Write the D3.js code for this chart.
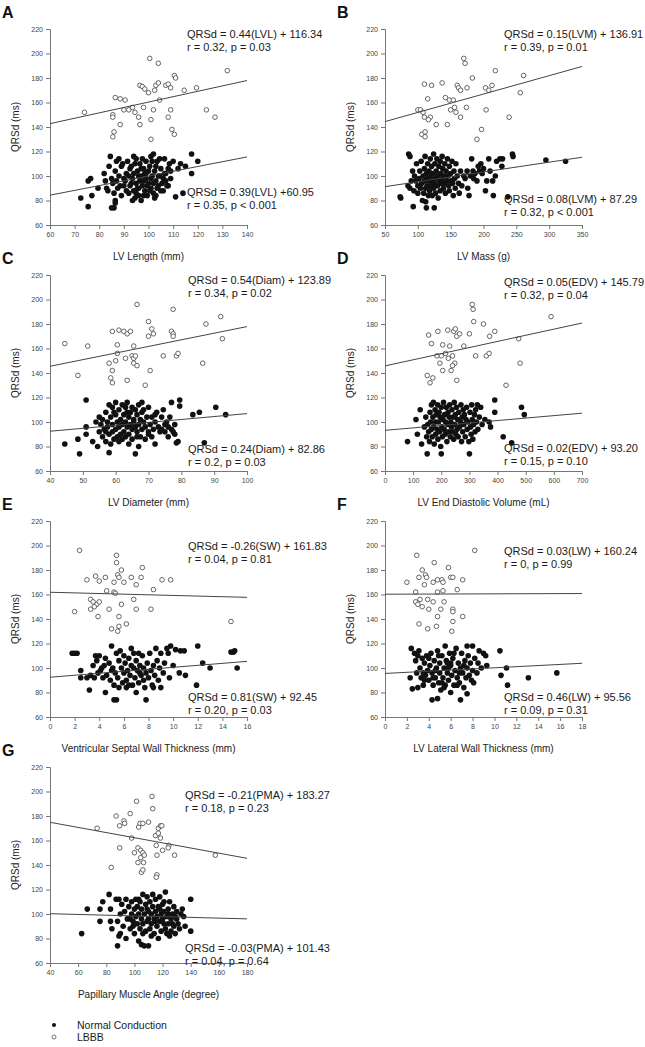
<!DOCTYPE html>
<html>
<head>
<meta charset="utf-8">
<script src="https://cdn.jsdelivr.net/npm/d3@7"></script>
<style>
  body { margin: 0; background: #fff; }
  svg { display: block; font-family: "Liberation Sans", Arial, sans-serif; }
</style>
</head>
<body>
<div id="chart"></div>
<script>
// panel letters and x axis titles
const panelIds = ["A", "B", "C", "D", "E", "F", "G"]
const xTitles = [
  "LV Length (mm)",
  "LV Mass (g)",
  "LV Diameter (mm)",
  "LV  End Diastolic Volume (mL)",
  "Ventricular Septal Wall Thickness (mm)",
  "LV Lateral Wall Thickness (mm)",
  "Papillary Muscle Angle (degree)"
]
const xTicks = [
  [60, 70, 80, 90, 100, 110, 120, 130, 140],
  [50, 100, 150, 200, 250, 300, 350],
  [40, 50, 60, 70, 80, 90, 100],
  [0, 100, 200, 300, 400, 500, 600, 700],
  [0, 2, 4, 6, 8, 10, 12, 14, 16],
  [0, 2, 4, 6, 8, 10, 12, 14, 16, 18],
  [40, 60, 80, 100, 120, 140, 160, 180]
]
const yTicks = [60, 80, 100, 120, 140, 160, 180, 200, 220]
const yTitle = "QRSd (ms)"

// regression fits [slope, intercept]
const lbbbFits = [[0.44, 116.34], [0.15, 136.91], [0.54, 123.89], [0.05, 145.79], [-0.26, 161.83], [0.03, 160.24], [-0.21, 183.27]]
const normalFits = [[0.39, 60.95], [0.08, 87.29], [0.24, 82.86], [0.02, 93.20], [0.81, 92.45], [0.46, 95.56], [-0.03, 101.43]]

const lbbbLabels = [
  ["QRSd = 0.44(LVL) + 116.34", "r = 0.32, p = 0.03"],
  ["QRSd = 0.15(LVM) + 136.91", "r = 0.39, p = 0.01"],
  ["QRSd = 0.54(Diam) + 123.89", "r = 0.34, p = 0.02"],
  ["QRSd = 0.05(EDV) + 145.79", "r = 0.32, p = 0.04"],
  ["QRSd = -0.26(SW) + 161.83", "r = 0.04, p = 0.81"],
  ["QRSd = 0.03(LW) + 160.24", "r = 0, p = 0.99"],
  ["QRSd = -0.21(PMA) + 183.27", "r = 0.18, p = 0.23"]
]
const normalLabels = [
  ["QRSd = 0.39(LVL) +60.95", "r = 0.35, p < 0.001"],
  ["QRSd = 0.08(LVM) + 87.29", "r = 0.32, p < 0.001"],
  ["QRSd = 0.24(Diam) + 82.86", "r = 0.2, p = 0.03"],
  ["QRSd = 0.02(EDV) + 93.20", "r = 0.15, p = 0.10"],
  ["QRSd = 0.81(SW) + 92.45", "r = 0.20, p = 0.03"],
  ["QRSd = 0.46(LW) + 95.56", "r = 0.09, p = 0.31"],
  ["QRSd = -0.03(PMA) + 101.43", "r = 0.04, p = 0.64"]
]
const legendLabels = ["Normal Conduction", "LBBB"]

// LBBB points [x, QRSd]
const lbbbA = [[74,152],[100.5,196],[104,192],[132,186],[110.5,182],[111,180],[96.5,174],[97.5,173],[98.5,171],[100,168],[102.5,170],[103,174],[104,176],[107,174],[108,175],[109,172],[114.5,170],[119.5,172],[86.5,164],[88.5,163],[90.5,162],[104.5,162],[90,154],[92,154],[93.5,156],[94.5,152],[98,156],[102,154],[109,154],[123.5,154],[85.5,150],[85.5,148],[96,148],[101,146],[108,148],[127,148],[88.5,142],[96.5,142],[86,136],[85.5,132],[109.5,138],[110.5,134],[101,130]]
const lbbbB = [[170,196],[172,192],[218,186],[261,182],[183,180],[110,175],[121,174],[137,176],[160,174],[162,172],[165,170],[175,172],[203,172],[208,170],[213,174],[115,163],[142,164],[148,162],[154,162],[174,156],[156,156],[256,168],[100,154],[104,154],[108,152],[150,154],[158,152],[204,154],[110,148],[119,148],[165,148],[239,148],[116,146],[128,142],[145,142],[197,138],[106,134],[111,136],[111,132],[190,130]]
const lbbbC = [[66.5,196],[77.5,192],[92,186],[70,182],[87.5,180],[59,174],[61,175],[62.5,174],[63.5,172],[64.5,174],[71,176],[70,170],[71.5,172],[77,174],[77.5,172],[77.5,170],[92.5,168],[44.5,164],[51.5,162],[60.5,163],[65.5,162],[60.5,156],[63,152],[65,154],[65.5,152],[66,154],[74.5,154],[78.5,154],[79,156],[65.5,148],[66.5,146],[58,148],[60,150],[86.5,148],[59,142],[70.5,142],[48.5,138],[58.5,136],[59,132],[63.5,134],[69,130]]
const lbbbD = [[310,196],[313,192],[590,186],[315,182],[350,180],[390,174],[372,170],[155,171],[188,174],[223,175],[244,174],[250,176],[255,170],[265,172],[300,172],[475,168],[165,164],[205,163],[230,162],[280,162],[185,154],[200,154],[215,156],[225,152],[240,154],[322,154],[360,154],[370,156],[195,148],[248,148],[240,146],[480,148],[205,142],[235,142],[150,138],[170,136],[160,132],[255,134],[430,130]]
const lbbbE = [[2.4,196],[5.4,192],[5.4,186],[7.5,182],[5.8,180],[3,172],[3.7,175],[4,171],[4.5,174],[5.2,170],[5.5,176],[5.6,174],[6,170],[6.6,174],[7,168],[7.4,174],[9.1,172],[9.8,172],[4.6,163],[5.2,162],[5.3,161],[8.4,164],[3.3,156],[3.5,154],[3.8,152],[4,154],[5.8,152],[6.8,156],[3.3,148],[3.6,150],[4.8,148],[7,148],[8.2,148],[2,146],[3.9,142],[5.6,142],[5,132],[5.6,134],[6.2,136],[5.5,130],[14.7,138]]
const lbbbF = [[8.2,196],[2.9,192],[4.5,186],[5.8,182],[3.4,180],[2,170],[3.1,174],[3.7,176],[3.8,174],[3.6,168],[4.4,170],[4.8,172],[5.2,172],[5.3,170],[6,174],[6.2,174],[7.1,172],[6.6,164],[2.8,162],[4.8,162],[5.3,163],[2.8,154],[3.2,156],[3.4,150],[3.9,156],[4.4,154],[5.4,154],[3,152],[4,148],[5.1,148],[6.2,148],[6.2,146],[4.8,142],[7.1,142],[6.2,138],[3.1,136],[4.7,134],[3.9,132],[6.1,130]]
const lbbbG = [[112.5,196],[101.5,192],[113,186],[87,180],[97,182],[73.5,170],[89.5,172],[92.5,176],[93,174],[103,171],[104,174],[106,174],[110,175],[117,170],[118.5,172],[119.5,172],[98,162],[115,164],[117,166],[118.5,162],[89.5,154],[102.5,154],[104.5,152],[100,150],[106,150],[115.5,156],[120,152],[124.5,156],[124,154],[128.5,148],[116,148],[157.5,148],[102.5,142],[104.5,146],[106.5,142],[107,148],[83.5,138],[105,134],[106,136],[116,132],[115.5,130]]

// Normal conduction points [x, QRSd]
const normalA = [[72.5,82],[75.5,75],[75.5,96],[76.5,98],[77,84],[79.5,90],[82,102],[82.5,96],[83,90],[83.5,88],[84,108],[84.5,116],[85,74],[86,74],[86.5,80],[86.5,78],[85,98],[85.5,94],[86,86],[86.5,104],[87,96],[87,112],[87.5,90],[88,114],[88,100],[88.5,92],[89,108],[89,84],[89.5,110],[90,92],[90,98],[90.5,96],[91,102],[91,88],[91.5,112],[92,86],[92,100],[92.5,92],[92.5,106],[93,108],[93,94],[93.5,98],[93.5,80],[94,116],[94,88],[94,102],[94.5,82],[94.5,110],[95,114],[95,94],[95,86],[95.5,104],[95.5,90],[96,90],[96,84],[96,100],[96.5,110],[96.5,96],[97,100],[97,80],[97,106],[97.5,114],[97.5,92],[98,96],[98,106],[98,84],[98.5,88],[98.5,102],[99,102],[99,112],[99,98],[99.5,84],[99.5,92],[100,94],[100,104],[100.5,108],[100.5,88],[101,90],[101,116],[101,98],[101.5,100],[101.5,112],[102,86],[102,118],[102,94],[102.5,104],[102.5,82],[103,84],[103,96],[103,108],[103.5,112],[103.5,90],[104,92],[104,100],[104.5,100],[104.5,114],[105,106],[105,88],[105.5,94],[106,88],[106,98],[106.5,114],[106.5,102],[107,102],[107,96],[107.5,92],[108,92],[108,106],[108.5,110],[109,104],[109,98],[110,112],[111,83],[112,106],[113,110],[114,86],[115,108],[117.5,118],[117.5,102],[120,112]]
const normalB = [[73,83],[74,82],[86,118],[88,116],[93,75],[113,74],[125,74],[85,92],[88,90],[90,96],[92,104],[94,88],[95,100],[97,96],[98,110],[100,92],[100,86],[102,98],[103,104],[104,90],[105,112],[106,94],[107,80],[108,100],[109,86],[110,106],[110,96],[111,116],[112,90],[112,79],[113,102],[114,92],[115,98],[115,110],[116,84],[117,96],[117,104],[118,88],[119,114],[120,100],[120,92],[121,108],[122,96],[122,84],[123,102],[124,118],[124,90],[125,94],[126,110],[127,98],[127,86],[128,104],[129,114],[130,92],[130,100],[131,82],[132,108],[133,96],[134,112],[134,88],[135,102],[136,94],[137,116],[137,98],[138,106],[139,90],[140,100],[141,110],[141,94],[142,86],[143,104],[144,96],[145,114],[146,100],[147,92],[148,108],[148,88],[150,102],[151,96],[152,112],[153,94],[154,84],[155,104],[156,98],[157,90],[158,110],[160,100],[162,94],[163,86],[165,104],[167,92],[170,100],[172,98],[175,104],[176,90],[178,84],[180,100],[182,114],[184,104],[185,98],[187,102],[190,96],[192,108],[194,104],[196,110],[198,102],[200,106],[203,88],[205,96],[208,114],[210,104],[214,96],[215,84],[218,100],[220,112],[225,114],[228,108],[229,114],[237,83],[244,118],[245,116],[295,113],[325,112]]
const normalC = [[44.5,82],[48.5,86],[49,74],[51,118],[51,96],[51,90],[53,84],[54,100],[54.5,80],[55,104],[55,92],[55.5,98],[56,88],[56,102],[56.5,94],[57,84],[57,108],[57.5,96],[57.5,100],[58,75],[58,90],[58,114],[58.5,82],[58.5,104],[59,112],[59,92],[59,98],[59.5,86],[60,106],[60,116],[60,94],[60.5,100],[60.5,88],[61,110],[61,96],[61.5,102],[61.5,90],[62,114],[62,98],[62,86],[62.5,106],[62.5,92],[63,100],[63,112],[63,88],[63.5,116],[63.5,96],[64,104],[64,90],[64.5,108],[64.5,98],[65,94],[65,112],[65,86],[65.5,102],[65.5,100],[66,74],[66,96],[66,110],[66.5,92],[66.5,106],[67,80],[67,98],[67,114],[67.5,102],[67.5,88],[68,108],[68,94],[68.5,110],[68.5,100],[69,96],[69,86],[69.5,104],[70,112],[70,92],[70.5,98],[71,104],[71,88],[71.5,94],[72,82],[72,100],[72.5,108],[73,96],[73.5,92],[74,104],[74.5,110],[75,98],[75,92],[75.5,100],[76,96],[76.5,104],[77,116],[77,94],[77.5,92],[78,98],[78.5,83],[79,84],[79.5,118],[79.5,113],[83.5,106],[85.5,108],[87,83],[90.5,112],[93.5,106],[57,92],[59.5,108],[61,84],[63.5,108],[64,82],[66.5,88],[68,116],[70,90],[72,106],[74,94],[76,88],[78,90]]
const normalD = [[80,84],[110,102],[115,90],[125,110],[130,82],[140,96],[145,104],[148,88],[150,74],[152,98],[155,92],[158,84],[160,108],[162,100],[165,114],[165,94],[168,88],[170,104],[172,116],[173,96],[175,82],[178,110],[180,100],[180,90],[182,106],[185,94],[187,114],[188,86],[190,100],[192,108],[194,92],[196,104],[198,80],[200,74],[200,112],[202,96],[204,88],[206,102],[208,116],[210,94],[212,106],[214,90],[215,100],[218,112],[220,84],[222,98],[224,108],[226,92],[228,104],[230,114],[232,88],[234,100],[236,96],[238,110],[240,92],[242,104],[244,86],[246,116],[248,98],[250,106],[252,90],[254,112],[256,94],[258,102],[260,88],[262,108],[265,96],[268,100],[270,114],[272,84],[274,104],[276,92],[278,110],[280,98],[282,106],[285,88],[288,102],[290,112],[292,94],[295,100],[298,84],[300,74],[302,108],[304,96],[306,90],[308,114],[310,102],[312,86],[315,98],[318,106],[320,92],[322,110],[325,100],[328,114],[330,94],[335,104],[340,112],[345,98],[355,102],[370,100],[375,96],[390,118],[390,108],[420,88],[450,83],[485,112],[495,106]]
const normalE = [[1.8,112],[2,112],[2.2,112],[2.5,98],[2.5,92],[3.2,82],[3,92],[3.3,94],[3.5,102],[3.6,92],[3.8,106],[3.9,96],[4,110],[4.2,100],[4.3,92],[4.5,80],[4.5,108],[4.6,94],[4.8,104],[4.9,90],[5,118],[5.1,100],[5.2,74],[5.2,86],[5.3,96],[5.4,74],[5.4,112],[5.5,92],[5.6,84],[5.6,106],[5.8,100],[5.9,88],[6,110],[6,96],[6.1,104],[6.2,90],[6.2,84],[6.3,98],[6.4,108],[6.5,94],[6.6,116],[6.6,102],[6.7,86],[6.8,100],[6.9,92],[7,106],[7,80],[7.1,98],[7.2,112],[7.2,88],[7.3,102],[7.4,94],[7.5,110],[7.6,100],[7.7,84],[7.8,74],[7.8,96],[7.9,104],[8,92],[8.1,112],[8.2,98],[8.3,86],[8.4,102],[8.5,94],[8.6,116],[8.7,106],[8.8,90],[8.9,100],[9,84],[9,112],[9.2,96],[9.3,104],[9.5,116],[9.6,112],[9.8,118],[9.7,92],[10,102],[10.2,115],[10.5,96],[10.6,114],[10.9,114],[11,94],[11.9,86],[12,118],[12.4,104],[13,100],[14.7,113],[14.9,113],[15,114],[15.2,100],[3.7,110],[4.1,98],[4.4,102],[5.7,114],[6.8,112],[7.6,90],[8.4,84],[6.4,86],[5,98],[7.3,96]]
const normalF = [[2.3,92],[2.4,116],[2.5,83],[2.7,112],[2.8,106],[2.9,96],[3,84],[3,110],[3.2,100],[3.3,92],[3.4,108],[3.5,86],[3.6,104],[3.7,94],[3.8,110],[3.9,98],[4,90],[4.1,102],[4.2,112],[4.3,74],[4.3,96],[4.4,86],[4.5,106],[4.6,92],[4.7,100],[4.8,75],[4.8,114],[4.9,88],[5,104],[5,96],[5.1,82],[5.2,110],[5.3,92],[5.4,100],[5.5,118],[5.5,86],[5.6,106],[5.7,96],[5.8,90],[5.9,112],[6,102],[6,80],[6.1,94],[6.2,108],[6.3,86],[6.4,98],[6.5,116],[6.6,92],[6.7,104],[6.8,88],[6.9,74],[6.9,100],[7,112],[7.1,96],[7.2,84],[7.3,106],[7.4,92],[7.5,79],[7.5,118],[7.5,100],[7.6,110],[7.7,94],[7.8,104],[8,118],[8,98],[8.1,88],[8.2,108],[8.4,96],[8.5,104],[8.6,114],[8.8,100],[9,112],[9.2,110],[9.3,102],[10.5,114],[10.6,94],[11.1,100],[11.2,86],[13.1,92],[15.7,96],[3.1,114],[3.5,96],[4,108],[4.6,98],[5.2,88],[5.8,100],[6.3,112],[6.8,96],[7.2,102],[7.9,90],[4.4,92],[5.4,84],[6,104],[6.6,86],[3.6,90],[4.9,110],[5.7,104]]
const normalG = [[62.5,84],[66.5,104],[75.5,94],[75.5,104],[77.5,110],[82,116],[83,104],[83,94],[84,88],[88,74],[89,82],[90,84],[87,112],[88,94],[89,112],[90,100],[91,108],[92,90],[93,102],[94,80],[94,112],[95,96],[96,106],[97,88],[98,100],[98,110],[99,94],[100,104],[100,84],[101,98],[101,112],[102,92],[102,106],[103,100],[103,78],[104,88],[104,110],[105,96],[105,104],[105,75],[106,116],[106,92],[107,100],[107,74],[108,108],[108,86],[109,94],[109,114],[110,102],[110,96],[110,74],[111,88],[111,110],[112,100],[112,92],[113,106],[113,116],[114,96],[114,84],[115,102],[115,112],[116,90],[116,98],[117,106],[117,80],[118,94],[118,114],[119,100],[119,86],[120,108],[120,96],[121,92],[121,102],[122,118],[122,88],[123,98],[123,84],[124,104],[124,92],[125,110],[125,82],[126,96],[126,86],[127,100],[128,90],[128,106],[129,84],[130,96],[130,102],[131,92],[132,88],[133,100],[134,104],[135,98],[136,90],[140,112],[140,86],[97,96],[99,90],[103,112],[106,84],[109,104],[112,82],[115,94],[118,104],[121,110],[124,100],[127,92],[129,98]]

const lbbbSeries = [lbbbA, lbbbB, lbbbC, lbbbD, lbbbE, lbbbF, lbbbG]
const normalSeries = [normalA, normalB, normalC, normalD, normalE, normalF, normalG]

// layout (pixels)
const W = 645, H = 1047
const plotW = 197, plotH = 196
const colLeft = [50, 385]
const rowTop = [29, 275, 521, 767]
// offsets of the equation blocks from the plot's top-left corner [dx, upper baseline, lower baseline]
const labelPos = [[137, 9, 167], [119, 9, 174], [138, 9, 178], [119, 11, 177], [138, 29, 180], [119, 34, 180], [135, 32, 185]]

const svg = d3.select("#chart").append("svg")
  .attr("width", W)
  .attr("height", H)

const axisColor = "#777"
const tickText = "#444"

panelIds.forEach((id, i) => {
  const left = colLeft[i % 2]
  const top = rowTop[Math.floor(i / 2)]
  const ticks = xTicks[i]

  const x = d3.scaleLinear().domain([ticks[0], ticks[ticks.length - 1]]).range([0, plotW])
  const y = d3.scaleLinear().domain([60, 220]).range([plotH, 0])

  const g = svg.append("g").attr("transform", `translate(${left},${top})`)

  // panel letter
  g.append("text")
    .attr("x", -48)
    .attr("y", -11)
    .style("font-size", "16px")
    .style("font-weight", "bold")
    .attr("fill", "#111")
    .text(id)

  // axes
  const yAxis = g.append("g")
    .call(d3.axisLeft(y).tickValues(yTicks).tickSize(4).tickPadding(3))
  const xAxis = g.append("g")
    .attr("transform", `translate(0,${plotH})`)
    .call(d3.axisBottom(x).tickValues(ticks).tickSize(4).tickPadding(3))

  ;[yAxis, xAxis].forEach(a => {
    a.select(".domain").attr("stroke", axisColor).attr("stroke-width", 1)
    a.selectAll(".tick line").attr("stroke", axisColor)
    a.selectAll(".tick text")
      .attr("fill", tickText)
      .style("font-size", "7px")
      .style("font-family", "'Liberation Sans', Arial, sans-serif")
  })

  // axis titles
  g.append("text")
    .attr("transform", `translate(-35,${plotH / 2}) rotate(-90)`)
    .attr("text-anchor", "middle")
    .attr("dy", "0.35em")
    .style("font-size", "10px")
    .attr("fill", "#222")
    .text(yTitle)

  g.append("text")
    .attr("x", plotW / 2)
    .attr("y", plotH + 35)
    .attr("text-anchor", "middle")
    .style("font-size", "10px")
    .attr("fill", "#222")
    .text(xTitles[i])

  // normal conduction: filled dots
  g.append("g")
    .selectAll("circle")
    .data(normalSeries[i])
    .join("circle")
    .attr("cx", d => x(d[0]))
    .attr("cy", d => y(d[1]))
    .attr("r", 2.8)
    .attr("fill", "#111")

  // LBBB: open circles
  g.append("g")
    .selectAll("circle")
    .data(lbbbSeries[i])
    .join("circle")
    .attr("cx", d => x(d[0]))
    .attr("cy", d => y(d[1]))
    .attr("r", 2.3)
    .attr("fill", "#fff")
    .attr("stroke", "#555")
    .attr("stroke-width", 0.9)

  // regression lines across the x range
  const [x0, x1] = x.domain()
  ;[lbbbFits[i], normalFits[i]].forEach(([m, b]) => {
    g.append("line")
      .attr("x1", x(x0)).attr("y1", y(m * x0 + b))
      .attr("x2", x(x1)).attr("y2", y(m * x1 + b))
      .attr("stroke", "#444")
      .attr("stroke-width", 1)
  })

  // equation text
  const [dx, upY, lowY] = labelPos[i]
  const eq = (lines, baseY) => {
    lines.forEach((s, k) => {
      g.append("text")
        .attr("x", dx)
        .attr("y", baseY + k * 12.5)
        .style("font-size", "11px")
        .attr("fill", "#1a1a1a")
        .text(s)
    })
  }
  eq(lbbbLabels[i], upY)
  eq(normalLabels[i], lowY)
})

// legend
const legend = svg.append("g").attr("transform", "translate(54,1025)")
legend.append("circle").attr("cx", 0).attr("cy", 0).attr("r", 2).attr("fill", "#111")
legend.append("circle").attr("cx", 0).attr("cy", 12).attr("r", 2)
  .attr("fill", "#fff").attr("stroke", "#555").attr("stroke-width", 0.8)
legendLabels.forEach((s, k) => {
  legend.append("text")
    .attr("x", 23)
    .attr("y", k * 12 + 4)
    .style("font-size", "10.5px")
    .attr("fill", "#1a1a1a")
    .text(s)
})
</script>
</body>
</html>
